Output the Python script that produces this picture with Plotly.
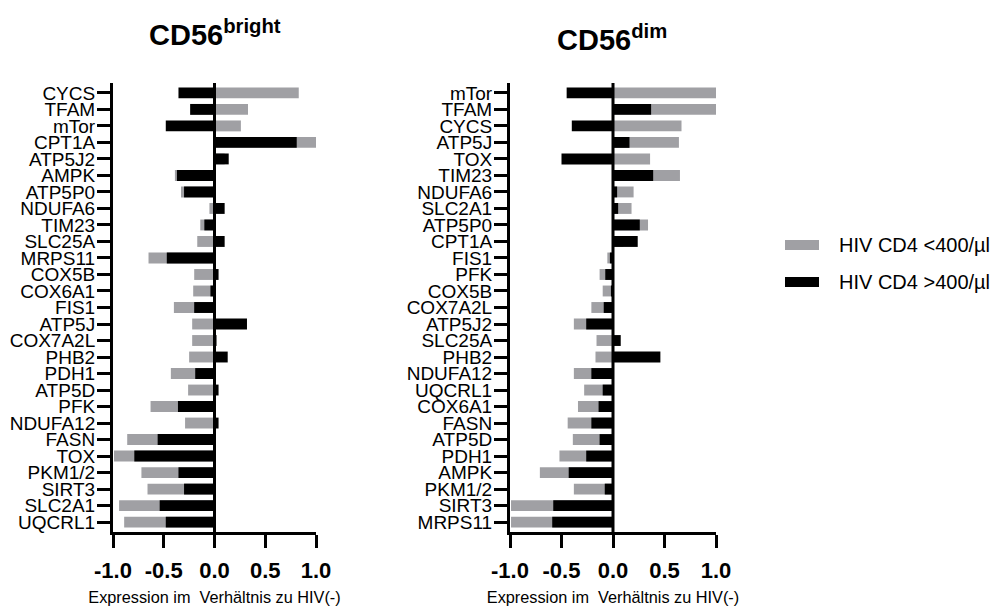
import plotly.graph_objects as go

# ---------------- data ----------------
bright_genes = ["CYCS", "TFAM", "mTor", "CPT1A", "ATP5J2", "AMPK", "ATP5P0", "NDUFA6",
                "TIM23", "SLC25A", "MRPS11", "COX5B", "COX6A1", "FIS1", "ATP5J", "COX7A2L",
                "PHB2", "PDH1", "ATP5D", "PFK", "NDUFA12", "FASN", "TOX", "PKM1/2",
                "SIRT3", "SLC2A1", "UQCRL1"]
bright_low = [0.83, 0.33, 0.26, 1.00, 0.10, -0.39, -0.33, -0.05,
              -0.14, -0.17, -0.65, -0.20, -0.21, -0.40, -0.22, -0.22,
              -0.25, -0.43, -0.26, -0.63, -0.29, -0.86, -0.99, -0.72,
              -0.66, -0.94, -0.89]
bright_high = [-0.355, -0.24, -0.48, 0.81, 0.14, -0.37, -0.30, 0.10,
               -0.10, 0.10, -0.47, 0.04, -0.04, -0.20, 0.32, 0.02,
               0.13, -0.19, 0.04, -0.36, 0.04, -0.56, -0.79, -0.355,
               -0.30, -0.54, -0.48]

dim_genes = ["mTor", "TFAM", "CYCS", "ATP5J", "TOX", "TIM23", "NDUFA6", "SLC2A1",
             "ATP5P0", "CPT1A", "FIS1", "PFK", "COX5B", "COX7A2L", "ATP5J2", "SLC25A",
             "PHB2", "NDUFA12", "UQCRL1", "COX6A1", "FASN", "ATP5D", "PDH1", "AMPK",
             "PKM1/2", "SIRT3", "MRPS11"]
dim_low = [1.00, 1.00, 0.665, 0.64, 0.36, 0.65, 0.20, 0.18,
           0.34, 0.10, -0.055, -0.13, -0.10, -0.21, -0.38, -0.16,
           -0.17, -0.38, -0.28, -0.34, -0.44, -0.39, -0.52, -0.71,
           -0.38, -0.99, -0.99]
dim_high = [-0.45, 0.37, -0.40, 0.16, -0.50, 0.39, 0.04, 0.05,
            0.26, 0.24, -0.03, -0.075, -0.02, -0.09, -0.26, 0.075,
            0.46, -0.21, -0.10, -0.14, -0.21, -0.13, -0.26, -0.43,
            -0.08, -0.58, -0.59]

x_ticks = [-1.0, -0.5, 0.0, 0.5, 1.0]
x_tick_labels = ["-1.0", "-0.5", "0.0", "0.5", "1.0"]
series_names = ["HIV CD4 <400/µl", "HIV CD4 >400/µl"]
panel_titles = ["CD56<sup>bright</sup>", "CD56<sup>dim</sup>"]
axis_title = "Expression im \u00a0Verhältnis zu HIV(-)"

GRAY = "#a0a0a4"
BLACK = "#000000"
FONT = "Liberation Sans, Arial, Helvetica, sans-serif"
# the page body has an 8px margin, so the figure is drawn 8px in from the corner
OFF = 8
W, H = 998 - OFF, 608 - OFF


def px(v):
    return (v - OFF) / W


def py(v):
    return 1 - (v - OFF) / H


fig = go.Figure()

panels = [
    (bright_genes, bright_low, bright_high, "x", "y"),
    (dim_genes, dim_low, dim_high, "x2", "y2"),
]
for genes, low, high, xa, ya in panels:
    fig.add_trace(go.Bar(y=genes, x=low, orientation="h", marker_color=GRAY,
                         marker_line_width=0, width=0.66, name=series_names[0],
                         showlegend=False, xaxis=xa, yaxis=ya))
    fig.add_trace(go.Bar(y=genes, x=high, orientation="h", marker_color=BLACK,
                         marker_line_width=0, width=0.66, name=series_names[1],
                         showlegend=False, xaxis=xa, yaxis=ya))

ydom = [py(532), py(83)]
xdoms = [[px(113), px(316)], [px(510), px(716)]]

common_x = dict(range=[-1, 1], tickmode="array", tickvals=x_ticks, ticktext=x_tick_labels,
                showgrid=False, zeroline=False, showline=True, linecolor="black",
                linewidth=3, ticks="outside", ticklen=13, tickwidth=3, tickcolor="black",
                tickfont=dict(family=FONT, size=22, color="black", weight="bold"),
                ticklabelstandoff=4,
                title=dict(text=axis_title, font=dict(family=FONT, size=16.3, color="black"),
                           standoff=10),
                automargin=False, fixedrange=True)
common_y = dict(type="category", showgrid=False, zeroline=False, showline=True,
                linecolor="black", linewidth=3, ticks="outside", ticklen=13, tickwidth=3,
                tickcolor="black", ticklabelstandoff=-2, tickmode="array",
                tickfont=dict(family=FONT, size=19, color="black"),
                domain=ydom, automargin=False, fixedrange=True)

fig.update_layout(
    width=W, height=H, margin=dict(l=0, r=0, t=0, b=0),
    paper_bgcolor="white", plot_bgcolor="white",
    barmode="overlay", showlegend=False,
    xaxis=dict(common_x, domain=xdoms[0], anchor="y"),
    yaxis=dict(common_y, anchor="x", categoryarray=bright_genes,
               tickvals=bright_genes, ticktext=bright_genes, range=[26.6, -0.6]),
    xaxis2=dict(common_x, domain=xdoms[1], anchor="y2"),
    yaxis2=dict(common_y, anchor="x2", categoryarray=dim_genes,
                tickvals=dim_genes, ticktext=dim_genes, range=[26.6, -0.6]),
    font=dict(family=FONT, color="black"),
)

# zero lines above bars
for xa, ya in [("x", "y"), ("x2", "y2")]:
    fig.add_shape(type="line", xref=xa, yref=f"{ya} domain", x0=0, x1=0, y0=0, y1=1,
                  line=dict(color="black", width=3), layer="above")

# panel titles
fig.add_annotation(text="<b>" + panel_titles[0] + "</b>", x=px(215), y=py(33),
                   xref="paper", yref="paper", showarrow=False, xanchor="center",
                   yanchor="middle", font=dict(family=FONT, size=29, color="black"))
fig.add_annotation(text="<b>" + panel_titles[1] + "</b>", x=px(612), y=py(38),
                   xref="paper", yref="paper", showarrow=False, xanchor="center",
                   yanchor="middle", font=dict(family=FONT, size=29, color="black"))

# legend (manual)
for i, (name, col) in enumerate(zip(series_names, [GRAY, BLACK])):
    yc = 245 + i * 37
    fig.add_shape(type="rect", xref="paper", yref="paper",
                  x0=px(785), x1=px(819), y0=py(yc - 5), y1=py(yc + 5),
                  fillcolor=col, line_width=0)
    fig.add_annotation(text=name, x=px(837), y=py(yc), xref="paper", yref="paper",
                       showarrow=False, xanchor="left", yanchor="middle",
                       font=dict(family=FONT, size=20, color="black"))

fig.write_html("out.html")
